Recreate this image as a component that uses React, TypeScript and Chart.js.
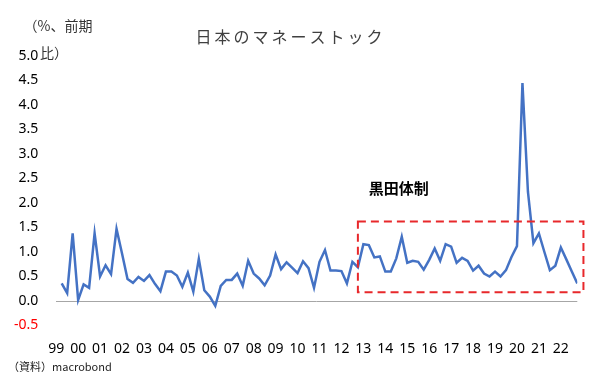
import React, { useEffect, useRef } from "react";
import { Chart, registerables } from "chart.js";

Chart.register(...registerables);

// Quarterly periods, 1999Q2 .. 2022Q4
const quarters: string[] = [];
for (let y = 1999; y <= 2022; y++) {
  for (let q = 1; q <= 4; q++) {
    if (y === 1999 && q === 1) continue;
    quarters.push(`${y}Q${q}`);
  }
}

// Money stock, % change from previous quarter
const moneyStock: number[] = [
  0.36, 0.16, 1.38, 0.02, 0.34, 0.27, 1.38, 0.5, 0.73, 0.55,
  1.47, 0.97, 0.45, 0.37, 0.49, 0.41, 0.53, 0.35, 0.2, 0.6,
  0.6, 0.52, 0.29, 0.58, 0.19, 0.86, 0.22, 0.09, -0.1, 0.31,
  0.43, 0.43, 0.56, 0.31, 0.82, 0.56, 0.46, 0.32, 0.52, 0.95,
  0.65, 0.79, 0.68, 0.57, 0.81, 0.67, 0.27, 0.8, 1.04, 0.62,
  0.62, 0.61, 0.36, 0.8, 0.69, 1.16, 1.14, 0.89, 0.91, 0.6,
  0.6, 0.87, 1.31, 0.78, 0.82, 0.8, 0.64, 0.84, 1.07, 0.82,
  1.16, 1.11, 0.78, 0.88, 0.82, 0.62, 0.72, 0.56, 0.5, 0.6,
  0.5, 0.63, 0.9, 1.12, 4.45, 2.23, 1.18, 1.38, 1.0, 0.63,
  0.72, 1.09, 0.85, 0.6, 0.36,
];

const yearTicks: number[] = [
  1999, 2000, 2001, 2002, 2003, 2004, 2005, 2006, 2007, 2008, 2009, 2010,
  2011, 2012, 2013, 2014, 2015, 2016, 2017, 2018, 2019, 2020, 2021, 2022,
];
const yearLabels: string[] = [
  "99", "00", "01", "02", "03", "04", "05", "06", "07", "08", "09", "10",
  "11", "12", "13", "14", "15", "16", "17", "18", "19", "20", "21", "22",
];

// Kuroda regime highlight box (data coordinates)
const kurodaBox = { x0: 2012.75, x1: 2023.03, y0: 0.18, y1: 1.62 };
const kurodaLabel = { x: 2013.25, y: 2.31, text: "黒田体制" };

const titleText = "日本のマネーストック";
const unitLines = ["（%、前期", "比）"];
const sourceText = "（資料）macrobond";

const quarterToX = (s: string) => {
  const [y, q] = s.split("Q");
  return Number(y) + (Number(q) - 1) / 4;
};

const JP = '"Noto Sans CJK JP", "Noto Sans", sans-serif';
const NUM = '"Noto Sans", "Noto Sans CJK JP", sans-serif';

const overlay = {
  id: "overlay",
  afterDraw(chart: any) {
    const ctx = chart.ctx as CanvasRenderingContext2D;
    const xs = chart.scales.x;
    const ys = chart.scales.y;
    ctx.save();
    // dashed box
    const bx0 = xs.getPixelForValue(kurodaBox.x0);
    const bx1 = xs.getPixelForValue(kurodaBox.x1);
    const by0 = ys.getPixelForValue(kurodaBox.y1);
    const by1 = ys.getPixelForValue(kurodaBox.y0);
    ctx.strokeStyle = "#E8282B";
    ctx.lineWidth = 2;
    ctx.setLineDash([8, 5]);
    ctx.strokeRect(bx0, by0, bx1 - bx0, by1 - by0);
    ctx.setLineDash([]);

    // label
    ctx.fillStyle = "#000";
    ctx.font = `bold 15px ${JP}`;
    ctx.textBaseline = "middle";
    ctx.textAlign = "left";
    ctx.fillText(
      kurodaLabel.text,
      xs.getPixelForValue(kurodaLabel.x),
      ys.getPixelForValue(kurodaLabel.y)
    );

    // title with letter spacing
    ctx.font = `16px ${JP}`;
    ctx.fillStyle = "#404040";
    const spacing = 3;
    let total = 0;
    const chars = Array.from(titleText);
    const widths = chars.map((c) => ctx.measureText(c).width);
    widths.forEach((w) => (total += w));
    total += spacing * (chars.length - 1);
    let cx = 289 - total / 2;
    chars.forEach((c, i) => {
      ctx.fillText(c, cx, 37);
      cx += widths[i] + spacing;
    });

    // unit
    ctx.font = `14px ${JP}`;
    ctx.fillStyle = "#333";
    ctx.textAlign = "center";
    ctx.fillText(unitLines[0], 58, 26);
    ctx.fillText(unitLines[1], 54, 53);

    // source
    ctx.font = `11px ${JP}`;
    ctx.fillStyle = "#222";
    ctx.textAlign = "left";
    ctx.fillText(sourceText, 8, 367);
    ctx.restore();
  },
};

export default function App() {
  const ref = useRef<HTMLCanvasElement | null>(null);
  useEffect(() => {
    document.body.style.margin = "0";
    const canvas = ref.current!;
    const chart = new Chart(canvas, {
      type: "line",
      data: {
        datasets: [
          {
            data: quarters.map((q, i) => ({ x: quarterToX(q), y: moneyStock[i] })),
            borderColor: "#4472C4",
            borderWidth: 2.5,
            pointRadius: 0,
            tension: 0,
            fill: false,
          },
        ],
      },
      options: {
        responsive: false,
        animation: false,
        layout: { padding: { left: 0, right: 22.7, top: 56, bottom: 0 } },
        plugins: { legend: { display: false }, tooltip: { enabled: false }, title: { display: false } },
        scales: {
          x: {
            type: "linear",
            min: 1999,
            max: 2022.75,
            afterFit: (s: any) => {
              s.height = 55.5;
            },
            afterBuildTicks: (s: any) => {
              s.ticks = yearTicks.map((v) => ({ value: v }));
            },
            ticks: {
              autoSkip: false,
              maxRotation: 0,
              padding: 15,
              color: "#000",
              font: { family: NUM, size: 14 },
              callback: (v: any) => {
                const i = yearTicks.indexOf(Number(v));
                return i >= 0 ? yearLabels[i] : "";
              },
            },
            grid: { display: false, drawTicks: false },
            border: { display: false },
          },
          y: {
            min: -0.5,
            max: 5,
            afterFit: (s: any) => {
              s.width = 56.2;
            },
            ticks: {
              stepSize: 0.5,
              padding: 18,
              font: { family: NUM, size: 14 },
              color: (c: any) => (c.tick && c.tick.value < 0 ? "#FF0000" : "#000"),
              callback: (v: any) => Number(v).toFixed(1),
            },
            grid: {
              drawTicks: false,
              lineWidth: 1,
              color: (c: any) => (c.tick && c.tick.value === 0 ? "#A6A6A6" : "rgba(0,0,0,0)"),
            },
            border: { display: false },
          },
        },
      },
      plugins: [overlay],
    });
    return () => chart.destroy();
  }, []);
  return (
    <div style={{ width: 600, height: 381, position: "relative", background: "#fff" }}>
      <canvas ref={ref} width={600} height={381} style={{ display: "block" }} />
    </div>
  );
}
